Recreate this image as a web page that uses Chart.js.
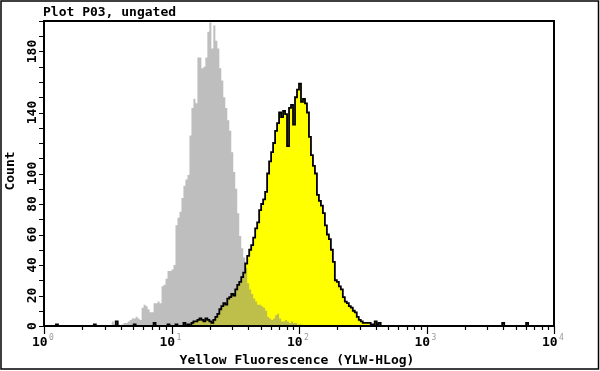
<!DOCTYPE html>
<html>
<head>
<meta charset="utf-8">
<script src="https://cdn.jsdelivr.net/npm/chart.js@4.4.0/dist/chart.umd.min.js"></script>
<style>
  html, body { margin: 0; padding: 0; background: #fff; }
  #wrap { width: 600px; height: 371px; position: relative; }
</style>
</head>
<body>
<div id="wrap"><canvas id="myChart"></canvas></div>
<script>
// 256 channels spread over 4 decades (10^0 .. 10^4)
const channels = 256;
const decades = 4;

// gray histogram, counts starting at channel grayStart
const grayStart = 34;
const grayCounts = [
    3, 1, 2, 1, 0, 1, 2, 2, 3, 4, 5, 5, 6, 5, 4, 12, 14, 13, 11, 9,
    9, 15, 15, 16, 15, 26, 27, 31, 36, 36, 37, 40, 66, 71, 75, 84, 92, 96, 99, 125,
    143, 149, 146, 176, 176, 169, 170, 176, 193, 199, 182, 197, 187, 182, 169, 161, 150, 143, 135, 128,
    114, 101, 90, 74, 59, 51, 45, 38, 28, 24, 21, 18, 16, 14, 14, 13, 12, 10, 6, 5,
    4, 5, 7, 8, 5, 3, 3, 4, 3, 2, 3, 2, 2, 1, 1, 1
];

// yellow histogram, counts starting at channel yellowStart
const yellowStart = 76;
const yellowCounts = [
    3, 4, 5, 4, 3, 5, 4, 3, 2, 4, 6, 8, 11, 13, 15, 14, 18, 19, 21, 20,
    24, 27, 29, 32, 35, 41, 46, 50, 53, 58, 64, 68, 76, 80, 83, 88, 100, 108, 114, 120,
    128, 133, 140, 137, 141, 139, 118, 143, 145, 132, 150, 155, 159, 147, 149, 146, 140, 124, 112, 105,
    100, 86, 82, 79, 74, 66, 60, 57, 50, 42, 30, 29, 26, 24, 19, 16, 15, 13, 12, 10,
    9, 6, 4, 3, 2, 2, 2, 2, 1, 1, 3, 1
];

// scattered single events of the yellow sample: [channel, count]
const yellowSparse = [[6, 1], [25, 1], [36, 3], [45, 1], [55, 2], [62, 1], [66, 1], [70, 2], [72, 1], [74, 2], [75, 3], [168, 2], [230, 2], [242, 2]];

const yTickLabels = [0, 20, 40, 60, 80, 100, 140, 180];
const xDecades = [1, 10, 100, 1000, 10000];
const xExponents = ['0', '1', '2', '3', '4'];

function toPoints(start, counts, sparse) {
    const full = new Array(channels).fill(0);
    counts.forEach((c, i) => { full[start + i] = c; });
    (sparse || []).forEach(([ch, c]) => { full[ch] = c; });
    // channel centre on the log axis
    return full.map((c, i) => ({ x: Math.pow(10, (i + 0.5) * decades / channels), y: c }));
}

const grayPts = toPoints(grayStart, grayCounts);
const yellowPts = toPoints(yellowStart, yellowCounts, yellowSparse);

const FONT = '"DejaVu Sans Mono", monospace';

const flowPlot = {
    id: 'flowPlot',
    beforeDraw(chart) {
        const ctx = chart.ctx;
        ctx.save();
        ctx.fillStyle = '#fff';
        ctx.fillRect(0, 0, chart.width, chart.height);
        ctx.restore();
    },
    afterDatasetsDraw(chart) {
        const ctx = chart.ctx;
        const xs = chart.scales.x, ys = chart.scales.y;
        const L = xs.getPixelForValue(1), R = xs.getPixelForValue(10000);
        const T = ys.getPixelForValue(200), B = ys.getPixelForValue(0);
        ctx.save();
        ctx.strokeStyle = '#000';
        ctx.fillStyle = '#000';

        // outer frame
        ctx.lineWidth = 1.5;
        ctx.strokeRect(1, 1, chart.width - 2.5, chart.height - 3);

        // plot box
        ctx.lineWidth = 2;
        ctx.strokeRect(L, T, R - L, B - T);

        // y ticks every 10
        ctx.lineWidth = 1.2;
        ctx.beginPath();
        for (let v = 0; v <= 200; v += 10) {
            const py = Math.round(ys.getPixelForValue(v)) + 0.5;
            ctx.moveTo(L - 5, py);
            ctx.lineTo(L, py);
        }
        // x ticks, 1..9 per decade
        for (let d = 0; d < decades; d++) {
            for (let k = 1; k <= 9; k++) {
                const px = Math.round(xs.getPixelForValue(k * Math.pow(10, d))) + 0.5;
                ctx.moveTo(px, B);
                ctx.lineTo(px, B + (k === 1 ? 8 : 4));
            }
        }
        const pxEnd = Math.round(R) + 0.5;
        ctx.moveTo(pxEnd, B);
        ctx.lineTo(pxEnd, B + 8);
        ctx.stroke();

        // y tick labels, rotated
        ctx.font = 'bold 13px ' + FONT;
        ctx.textAlign = 'center';
        ctx.textBaseline = 'middle';
        yTickLabels.forEach(v => {
            ctx.save();
            ctx.translate(33, ys.getPixelForValue(v));
            ctx.rotate(-Math.PI / 2);
            ctx.fillText(String(v), 0, 0);
            ctx.restore();
        });

        // x tick labels 10^n
        ctx.textBaseline = 'alphabetic';
        ctx.textAlign = 'left';
        xDecades.forEach((v, i) => {
            const px = xs.getPixelForValue(v);
            ctx.font = 'bold 13px ' + FONT;
            ctx.fillStyle = '#000';
            ctx.fillText('10', px - 12, 346);
            ctx.font = '8px ' + FONT;
            ctx.fillStyle = '#999';
            ctx.fillText(xExponents[i], px + 5, 340);
        });

        // titles
        ctx.fillStyle = '#000';
        ctx.font = 'bold 13px ' + FONT;
        ctx.textAlign = 'left';
        ctx.fillText('Plot P03, ungated', 43, 15.5);
        ctx.textAlign = 'center';
        ctx.fillText('Yellow Fluorescence (YLW-HLog)', 297, 364);
        ctx.save();
        ctx.translate(11, 171);
        ctx.rotate(-Math.PI / 2);
        ctx.textBaseline = 'middle';
        ctx.fillText('Count', 0, 0);
        ctx.restore();

        ctx.restore();
    }
};

const config = {
    type: 'line',
    data: {
        datasets: [
            {
                label: 'outline',
                data: yellowPts,
                borderColor: '#000',
                borderWidth: 1.8,
                fill: false,
                stepped: 'middle',
                pointRadius: 0,
                order: 1
            },
            {
                // translucent gray: plain gray on white, khaki over the yellow
                label: 'control',
                data: grayPts,
                backgroundColor: 'rgba(137,137,137,0.55)',
                borderWidth: 0,
                fill: 'origin',
                stepped: 'middle',
                pointRadius: 0,
                order: 2
            },
            {
                label: 'fill',
                data: yellowPts,
                backgroundColor: '#ffff00',
                borderWidth: 0,
                fill: 'origin',
                stepped: 'middle',
                pointRadius: 0,
                order: 3
            }
        ]
    },
    options: {
        responsive: true,
        maintainAspectRatio: false,
        animation: false,
        layout: {
            padding: { left: 44, right: 46, top: 21, bottom: 45 }
        },
        scales: {
            x: { type: 'logarithmic', min: 1, max: 10000, display: false },
            y: { type: 'linear', min: 0, max: 200, display: false }
        },
        plugins: {
            legend: { display: false },
            tooltip: { enabled: false }
        }
    },
    plugins: [flowPlot]
};

const myChart = new Chart(document.getElementById('myChart'), config);
</script>
</body>
</html>
